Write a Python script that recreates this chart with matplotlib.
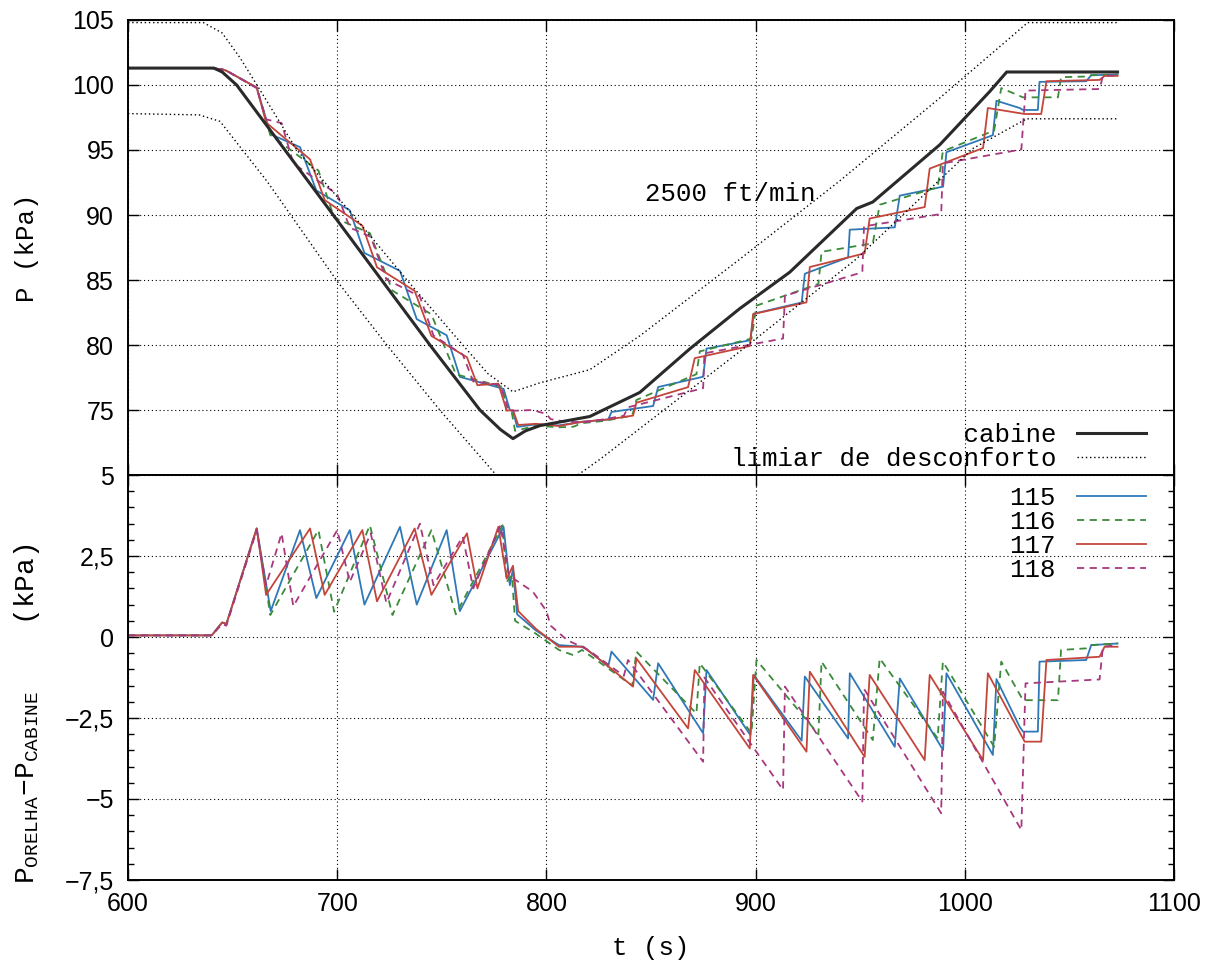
import matplotlib
matplotlib.use('Agg')
import matplotlib.pyplot as plt
from matplotlib.ticker import MultipleLocator

plt.rcParams['font.family'] = ['Liberation Sans', 'DejaVu Sans']
plt.rcParams['mathtext.fontset'] = 'custom'
plt.rcParams['mathtext.rm'] = 'Liberation Mono'
plt.rcParams['mathtext.it'] = 'Liberation Mono'

MONO = 'Liberation Mono'

# cabin pressure (kPa) vs time (s)
CAB_T = [600, 641, 645, 651.9, 675, 698.1, 721.2, 744.3, 768.2, 778, 784, 790, 796.9, 820.7,
         844.6, 868.5, 892.4, 916.3, 948.3, 956, 988, 1011.9, 1020, 1073]
CAB_P = [101.3, 101.3, 101.0, 100.0, 95.0, 90.0, 85.0, 80.0, 75.0, 73.5, 72.8, 73.4, 73.8, 74.5,
         76.35, 79.7, 82.8, 85.6, 90.5, 91.0, 95.4, 99.5, 101.0, 101.0]

# discomfort thresholds
UP_T = [600, 636, 645, 653.5, 661.6, 680.7, 707.5, 733.3, 760, 772, 784, 797, 820.7, 844.6,
        892.4, 940, 988, 1021.4, 1030, 1073]
UP_P = [104.8, 104.8, 104.0, 102.1, 100.0, 95.0, 90.0, 85.0, 80.0, 77.8, 76.4, 77.1, 78.1, 80.7,
        86.6, 92.6, 99.0, 103.6, 104.8, 104.8]
LO_T = [600, 634, 644, 666.4, 700, 723.7, 749, 776, 790, 815, 825.5, 892.4, 948, 1003.7, 1029.5, 1073]
LO_P = [97.8, 97.7, 97.2, 92.6, 84.9, 80.0, 75.0, 70.0, 68.5, 70.0, 71.2, 79.5, 86.6, 95.1, 97.4, 97.4]

# subject 115
T115 = [600, 640, 645, 647, 661.5, 668.2, 682.2, 690, 706, 713, 730, 738, 752.3, 758.6, 779.5,
        782.5, 784, 786, 795, 806, 817.6, 828.7, 829.5, 831.1, 851, 853.4, 874.9, 876.5, 897.5, 899.1,
        922, 923.5, 944.2, 945, 966.5, 968.9, 989.6, 991.2, 1013.4, 1015.1, 1026.2, 1027.8, 1034.9,
        1035.7, 1058, 1060.4, 1073]
D115 = [0.05, 0.05, 0.45, 0.4, 3.35, 0.8, 3.3, 1.2, 3.3, 1.0, 3.4, 1.0, 3.3, 0.8, 3.4,
        1.6, 2.1, 0.7, 0.2, -0.25, -0.3, -0.86, -0.92, -0.45, -1.94, -0.81, -2.97, -1.02, -3.03, -1.17,
        -3.2, -1.22, -3.13, -1.12, -3.39, -1.28, -3.49, -1.12, -3.64, -1.3, -2.77, -2.92, -2.92,
        -0.76, -0.71, -0.25, -0.2]
P115 = [101.3, 101.3, 101.2, 101.1, 99.8, 96.21, 95.22, 91.89, 90.36, 87.08, 85.7, 81.99, 80.75, 77.55, 76.63,
        75.0, 74.9, 73.7, 73.9, 73.82, 74.1, 74.26, 74.26, 74.85, 75.31, 76.77, 77.56, 79.72, 80.37, 82.41,
        83.27, 85.48, 86.74, 88.87, 89.05, 91.49, 92.18, 94.83, 96.14, 98.79, 98.23, 98.08, 98.08,
        100.24, 100.29, 100.75, 100.8]

# subject 116
T116 = [600, 640, 645, 647, 661.5, 668, 691, 698.5, 715.6, 726.4, 745, 756.7, 779,
        781, 783.5, 785, 795, 806, 812.8, 817, 828, 841, 843, 871.7, 873.3, 898, 900.4,
        930, 931.5, 956, 959.3, 987, 989.5, 1014, 1017.4, 1027.8, 1044.5, 1046, 1058, 1060.4, 1073]
D116 = [0.05, 0.05, 0.45, 0.4, 3.35, 0.68, 3.3, 0.78, 3.45, 0.68, 3.3, 0.7, 3.45,
        1.7, 1.9, 0.5, 0.1, -0.4, -0.56, -0.4, -0.9, -1.5, -0.45, -2.36, -0.81, -2.97, -0.71,
        -3.0, -0.76, -3.18, -0.66, -3.13, -0.76, -3.39, -0.76, -1.95, -1.95, -0.4, -0.35, -0.25, -0.2]
P116 = [101.3, 101.3, 101.2, 101.1, 99.8, 96.15, 93.42, 89.8, 88.6, 84.18, 82.36, 77.75, 76.78,
        74.85, 74.76, 73.4, 73.79, 73.67, 73.71, 73.99, 74.17, 74.57, 75.77, 77.76, 79.51, 80.49, 83.03,
        84.7, 87.17, 87.82, 90.79, 92.13, 94.9, 96.5, 99.76, 99.05, 99.05, 100.6, 100.65, 100.75, 100.8]

# subject 117
T117 = [600, 640, 645, 647, 661.5, 666, 687, 694, 712, 719, 737, 745, 762, 767, 777,
        781, 784, 786.5, 795, 806, 817.6, 828.7, 841.4, 843, 867.7, 870.9, 897.2, 898.8,
        924.3, 925.9, 952.1, 954.5, 980.8, 983.2, 1008.7, 1011, 1028.6, 1036.5, 1039, 1064.4, 1066.8, 1073]
D117 = [0.05, 0.05, 0.45, 0.4, 3.35, 1.3, 3.35, 1.3, 3.3, 1.1, 3.35, 1.3, 3.2, 1.5, 3.4,
        1.8, 2.2, 0.8, 0.25, -0.3, -0.3, -0.86, -1.53, -0.66, -2.82, -1.02, -3.44, -1.17,
        -3.54, -1.07, -3.7, -1.17, -3.8, -1.17, -3.8, -1.12, -3.23, -3.23, -0.71, -0.61, -0.3, -0.3]
P117 = [101.3, 101.3, 101.2, 101.1, 99.8, 97.11, 94.28, 91.15, 89.18, 85.98, 84.16, 80.7, 79.06, 76.91, 77.03,
        74.95, 75.0, 73.85, 73.94, 73.77, 74.11, 74.26, 74.57, 75.56, 76.76, 78.99, 79.92, 82.38,
        83.28, 86.0, 87.05, 89.73, 90.61, 93.57, 95.15, 98.23, 97.77, 97.77, 100.29, 100.39, 100.7, 100.7]

# subject 118
T118 = [600, 640, 645, 647, 661.5, 666, 673.4, 679, 700, 706, 716, 723.5, 739.5, 746, 760, 765, 778,
        782, 793.5, 800, 802, 810, 820, 837, 839, 874.9, 875.5, 913.1, 914,
        951, 951.8, 988.7, 989.5, 1027, 1029, 1064.4, 1066, 1073]
D118 = [0.05, 0.05, 0.4, 0.35, 3.3, 1.6, 3.2, 0.95, 3.3, 1.7, 3.2, 1.05, 3.5, 1.6, 3.1, 1.5, 3.45,
        1.9, 1.4, 0.8, 0.35, -0.1, -0.4, -1.2, -0.71, -3.85, -1.25, -4.72, -1.53,
        -5.08, -1.6, -5.44, -1.69, -5.96, -1.43, -1.31, -0.3, -0.25]
P118 = [101.3, 101.3, 101.2, 101.1, 99.76, 97.36, 97.07, 93.97, 91.59, 89.03, 88.32, 85.05, 83.73, 80.73, 79.26, 77.2, 76.92,
        74.93, 75.0, 74.69, 74.3, 74.08, 74.08, 74.56, 75.21, 76.68, 79.36, 80.5, 83.79,
        85.6, 89.13, 90.08, 93.97, 95.04, 99.57, 99.69, 100.7, 100.75]

X_TICKS = [600, 700, 800, 900, 1000, 1100]
TOP_YTICKS = [70, 75, 80, 85, 90, 95, 100, 105]
TOP_YLABELS = ['', '75', '80', '85', '90', '95', '100', '105']
BOT_YTICKS = [-7.5, -5, -2.5, 0, 2.5, 5]
BOT_YLABELS = ['\u22127,5', '\u22125', '\u22122,5', '0', '2,5', '5']

series = [
    ('115', T115, P115, D115, '#2f78b8', '-'),
    ('116', T116, P116, D116, '#3a8a3a', (0, (4, 3))),
    ('117', T117, P117, D117, '#c4453a', '-'),
    ('118', T118, P118, D118, '#a8387e', (0, (4, 3))),
]

fig = plt.figure(figsize=(12.16, 9.61), dpi=100)
ax1 = fig.add_axes([0.1053, 0.5057, 0.8602, 0.4735])
ax2 = fig.add_axes([0.1053, 0.0843, 0.8602, 0.4214], sharex=ax1)

for name, t, p, d, c, ls in series:
    ax1.plot(t, p, color=c, ls=ls, lw=1.3)
    ax2.plot(t, d, color=c, ls=ls, lw=1.3, label=name)

h_cab, = ax1.plot(CAB_T, CAB_P, color='#2a2a2a', lw=2.2)
h_lim, = ax1.plot(UP_T, UP_P, color='black', lw=1.0, ls=(0, (1, 2)))
ax1.plot(LO_T, LO_P, color='black', lw=1.0, ls=(0, (1, 2)))

ax1.text(847, 91.6, '2500 ft/min', family=MONO, fontsize=18.5, va='center', ha='left')

for ax in (ax1, ax2):
    ax.set_xlim(600, 1100)
    ax.set_xticks(X_TICKS)
    ax.grid(True, color='black', lw=0.8, ls=(0, (1, 2.5)))
    ax.tick_params(direction='in', top=True, right=True, length=8, width=1, labelsize=18)
    ax.tick_params(axis='y', pad=10)
    ax.tick_params(axis='x', pad=9)
    for s in ax.spines.values():
        s.set_linewidth(1.4)

ax1.set_ylim(70, 105)
ax1.set_yticks(TOP_YTICKS)
ax1.set_yticklabels(TOP_YLABELS)
ax1.tick_params(labelbottom=False)

ax2.set_ylim(-7.5, 5)
ax2.set_yticks(BOT_YTICKS)
ax2.set_yticklabels(BOT_YLABELS)
ax2.yaxis.set_minor_locator(MultipleLocator(0.5))
ax2.tick_params(which='minor', direction='in', right=True, length=4, width=1)

ax1.set_ylabel('P (kPa)', family=MONO, fontsize=18.5)
ax1.yaxis.set_label_coords(-0.085, 0.5)
ax2.set_ylabel(r'$\mathrm{P_{ORELHA}\!-\!P_{CABINE}}$    (kPa)', family=MONO, fontsize=20)
ax2.yaxis.set_label_coords(-0.082, 0.41)
ax2.set_xlabel('t (s)', family=MONO, fontsize=18.5, labelpad=14)

leg1 = ax1.legend([h_cab, h_lim], ['               cabine', 'limiar de desconforto'],
                  loc='lower right', bbox_to_anchor=(0.983, -0.014), borderaxespad=0,
                  frameon=False, markerfirst=False, handlelength=2.7, labelspacing=0.0,
                  handletextpad=0.8, prop={'family': MONO, 'size': 18.5})
leg2 = ax2.legend(loc='upper right', bbox_to_anchor=(0.983, 0.998), borderaxespad=0,
                  frameon=False, markerfirst=False, handlelength=2.7, labelspacing=0.0,
                  handletextpad=0.8, prop={'family': MONO, 'size': 18.5})

fig.savefig('out.png', dpi=100, facecolor='white')
